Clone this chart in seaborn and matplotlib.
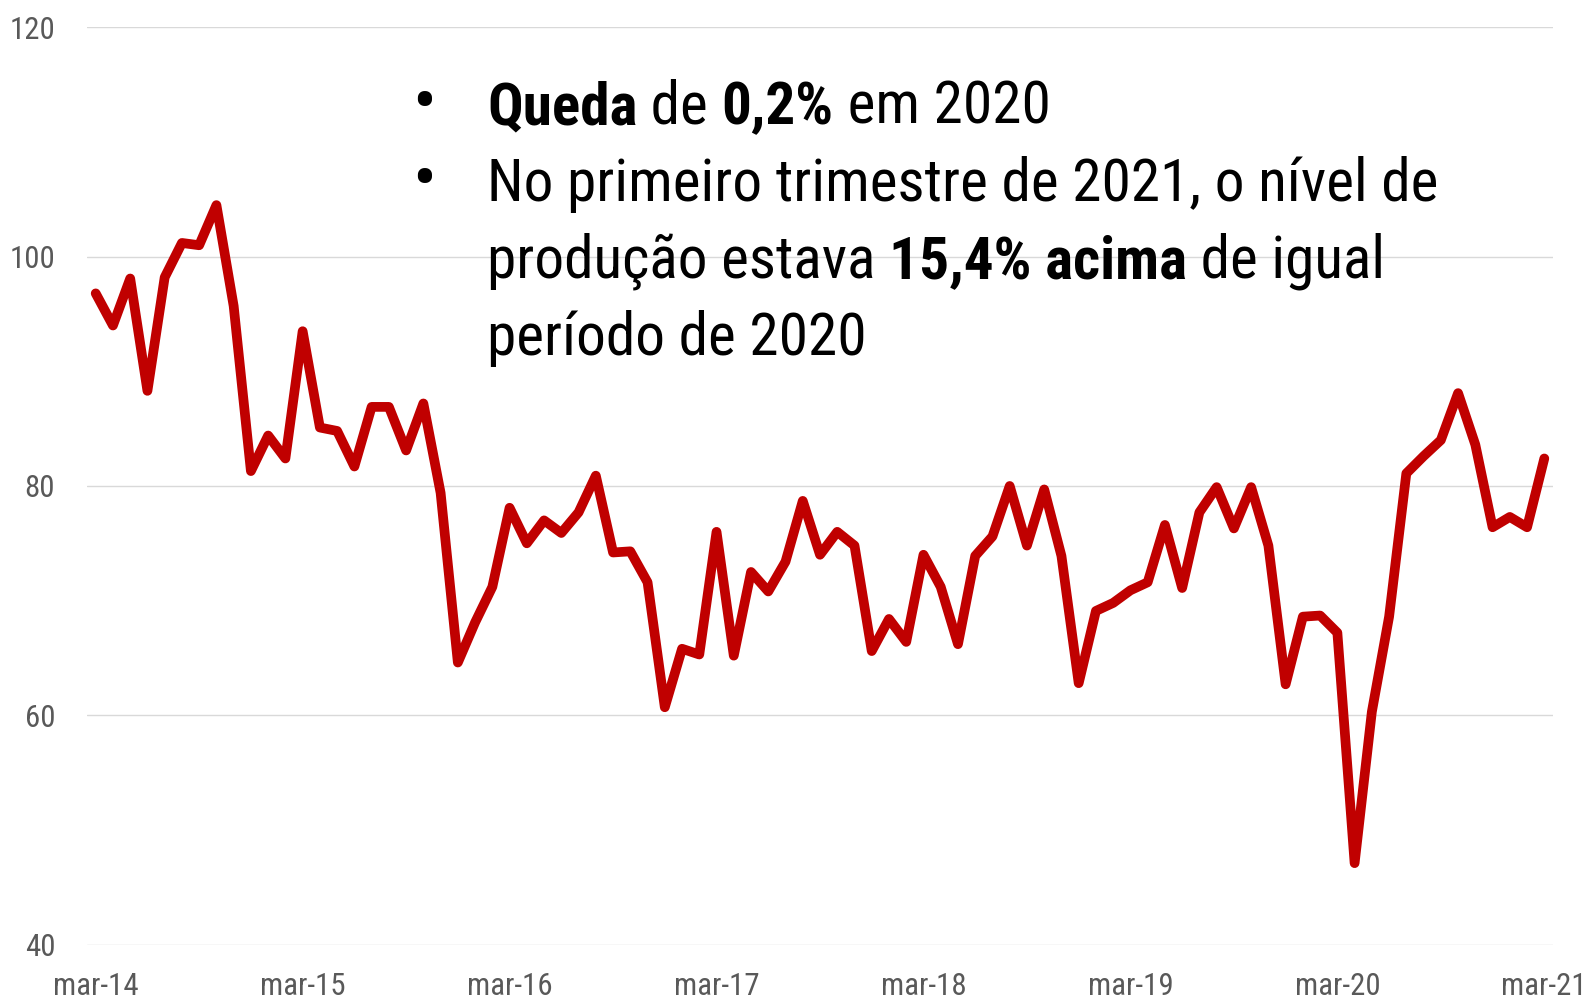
import numpy as np
import pandas as pd
import matplotlib
matplotlib.use("Agg")
import matplotlib.pyplot as plt
import seaborn as sns
from matplotlib import font_manager

# monthly index, mar-14 .. mar-21
values = [96.8, 94.0, 98.1, 88.3, 98.2, 101.2, 101.0, 104.5, 95.7, 81.3,
          84.4, 82.4, 93.5, 85.1, 84.8, 81.7, 86.9, 86.9, 83.1, 87.2,
          79.4, 64.6, 68.1, 71.2, 78.1, 75.0, 77.0, 75.9, 77.7, 80.9,
          74.2, 74.3, 71.6, 60.7, 65.8, 65.3, 76.0, 65.2, 72.5, 70.8,
          73.4, 78.7, 74.0, 76.0, 74.8, 65.6, 68.4, 66.4, 74.0, 71.2,
          66.2, 73.9, 75.6, 80.0, 74.8, 79.7, 73.9, 62.8, 69.1, 69.8,
          70.9, 71.6, 76.6, 71.1, 77.7, 79.9, 76.3, 79.9, 74.8, 62.7,
          68.6, 68.7, 67.2, 47.1, 60.3, 68.6, 81.1, 82.6, 84.0, 88.1,
          83.6, 76.4, 77.3, 76.4, 82.4]
tick_pos = [0, 12, 24, 36, 48, 60, 72, 84]
tick_labels = ["mar-14", "mar-15", "mar-16", "mar-17", "mar-18", "mar-19", "mar-20", "mar-21"]
y_ticks = [40, 60, 80, 100, 120]

df = pd.DataFrame({"mes": np.arange(len(values)), "valor": values})

sns.set_theme(style="white")

# reference uses a narrow Arial; take a condensed face if one is installed
ttf = font_manager.fontManager.ttflist
names = {f.name for f in ttf}
font, stretch = "Liberation Sans", "normal"
for cand in ["Liberation Sans Narrow", "Arial Narrow", "Roboto Condensed",
             "Open Sans Condensed", "Noto Sans Condensed"]:
    if cand in names:
        font = cand
        break
else:
    if any(f.name == "Noto Sans" and f.stretch in ("condensed", "semi-condensed") for f in ttf):
        font, stretch = "Noto Sans", "condensed"
plt.rcParams["font.family"] = [font, "DejaVu Sans"]
plt.rcParams["font.stretch"] = stretch

W, H = 1589, 1001
fig = plt.figure(figsize=(W / 100, H / 100), dpi=100)
ax = fig.add_axes([0.0548, 0.0564, 0.9773 - 0.0548, 0.9726 - 0.0564])
renderer = fig.canvas.get_renderer()

def width_at(txt, size, weight="normal"):
    t = fig.text(0, 0, txt, fontsize=size, fontweight=weight)
    w = t.get_window_extent(renderer).width
    t.remove()
    return w

# fit sizes to the widths measured on the reference
tick_size = 24 * 85.6 / width_at("mar-14", 24)
text_size = 44 * 951.5 / width_at("No primeiro trimestre de 2021, o nível de", 44)

sns.lineplot(data=df, x="mes", y="valor", color="#C00000", linewidth=7,
             solid_joinstyle="round", solid_capstyle="round", ax=ax)

ax.set_xlim(-0.5, 84.5)
ax.set_ylim(40, 120)
ax.set_yticks(y_ticks)
ax.set_xticks(tick_pos)
ax.set_xticklabels(tick_labels)
ax.set_xlabel("")
ax.set_ylabel("")
ax.grid(axis="y", color="#d9d9d9", linewidth=1)
ax.grid(axis="x", visible=False)
for s in ax.spines.values():
    s.set_visible(False)
ax.tick_params(axis="y", length=0, pad=23, labelsize=tick_size, labelcolor="#595959")
ax.tick_params(axis="x", length=0, pad=20, labelsize=tick_size, labelcolor="#595959")

# annotation text, pieces with mixed weight
lines = [
    (124, True, [("Queda", "bold"), (" de ", "normal"), ("0,2%", "bold"), (" em 2020", "normal")]),
    (201, True, [("No primeiro trimestre de 2021, o nível de", "normal")]),
    (278, False, [("produção estava ", "normal"), ("15,4% acima", "bold"), (" de igual", "normal")]),
    (355, False, [("período de 2020", "normal")]),
]
for base, bullet, parts in lines:
    y = 1 - base / H
    if bullet:
        fig.text(412 / W, y, "•", fontsize=text_size * 1.2, va="baseline", ha="left", color="black")
    x = 487 / W
    for txt, wt in parts:
        t = fig.text(x, y, txt, fontsize=text_size, fontweight=wt, va="baseline", ha="left", color="black")
        x = t.get_window_extent(renderer).x1 / W

fig.savefig("out.png", dpi=100)
